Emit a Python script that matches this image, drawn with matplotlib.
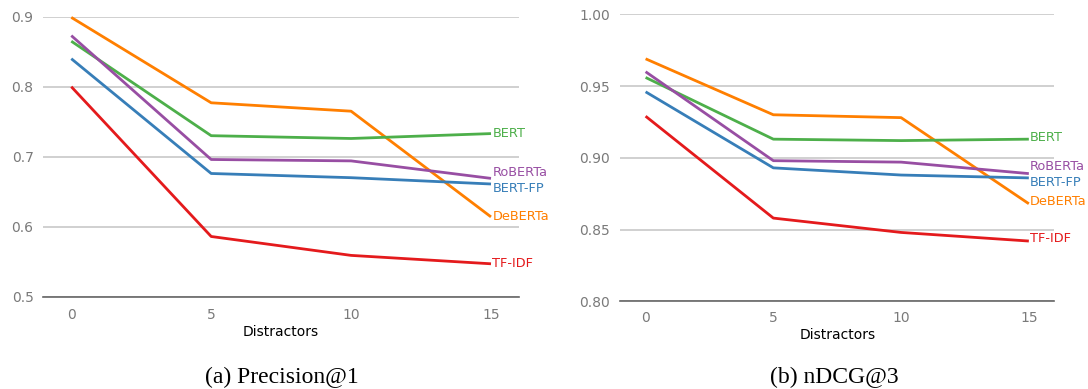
import numpy as np
import matplotlib.pyplot as plt

distractors = [0, 5, 10, 15]
colors = {"BERT": "#4daf4a", "RoBERTa": "#984ea3", "BERT-FP": "#377eb8",
          "DeBERTa": "#ff7f00", "TF-IDF": "#e41a1c"}

precision_at_1 = {
    "DeBERTa": [0.899, 0.777, 0.765, 0.614],
    "BERT": [0.865, 0.730, 0.726, 0.733],
    "RoBERTa": [0.873, 0.696, 0.694, 0.669],
    "BERT-FP": [0.840, 0.676, 0.670, 0.661],
    "TF-IDF": [0.800, 0.586, 0.559, 0.547],
}
ndcg_at_3 = {
    "DeBERTa": [0.969, 0.930, 0.928, 0.868],
    "BERT": [0.956, 0.913, 0.912, 0.913],
    "RoBERTa": [0.960, 0.898, 0.897, 0.889],
    "BERT-FP": [0.946, 0.893, 0.888, 0.886],
    "TF-IDF": [0.929, 0.858, 0.848, 0.842],
}
# vertical nudge (points) of end labels so they don't collide
nudge_a = {"BERT": 0, "RoBERTa": 4.5, "BERT-FP": -3.3, "DeBERTa": 0, "TF-IDF": 0}
nudge_b = {"BERT": 1, "RoBERTa": 5, "BERT-FP": -3.2, "DeBERTa": 1.5, "TF-IDF": 2}

fig = plt.figure(figsize=(10.88, 3.89), dpi=100)
ax1 = fig.add_axes([0.0398, 0.2373, 0.4372, 0.7198])
ax2 = fig.add_axes([0.5699, 0.2254, 0.3992, 0.7378])

panels = [
    (ax1, precision_at_1, nudge_a, [0.5, 0.6, 0.7, 0.8, 0.9], "{:.1f}", "(a) Precision@1", 0.259, 8),
    (ax2, ndcg_at_3, nudge_b, [0.80, 0.85, 0.90, 0.95, 1.00], "{:.2f}", "(b) nDCG@3", 0.7666, 7),
]

for ax, data, nudge, yticks, fmt, caption, cx, xpad in panels:
    for m in ["DeBERTa", "BERT", "RoBERTa", "BERT-FP", "TF-IDF"]:
        ax.plot(distractors, data[m], color=colors[m], lw=2.0, clip_on=False,
                solid_capstyle="butt", zorder=3)
        ax.annotate(m, (distractors[-1], data[m][-1]), xytext=(1, nudge[m]),
                    textcoords="offset points", color=colors[m], fontsize=9.3,
                    va="center", ha="left", annotation_clip=False)
    ax.set_xlim(-1, 16)
    ax.set_ylim(yticks[0], yticks[-1])
    ax.set_xticks(distractors)
    ax.set_yticks(yticks)
    ax.set_yticklabels([fmt.format(v) for v in yticks])
    ax.grid(axis="y", color="#c8c8c8", lw=1.2)
    ax.set_axisbelow(True)
    for s in ["top", "right", "left"]:
        ax.spines[s].set_visible(False)
    ax.spines["bottom"].set_color("#666666")
    ax.spines["bottom"].set_linewidth(1.2)
    ax.tick_params(axis="y", length=0, labelsize=10, labelcolor="#7a7a7a", pad=7)
    ax.tick_params(axis="x", length=0, labelsize=10, labelcolor="#7a7a7a", pad=xpad)
    ax.set_xlabel("Distractors", fontsize=10, labelpad=2)
    fig.text(cx, 0.0154, caption, ha="center", va="baseline",
             family="Liberation Serif", fontsize=17)

fig.savefig("out.png", dpi=100)
